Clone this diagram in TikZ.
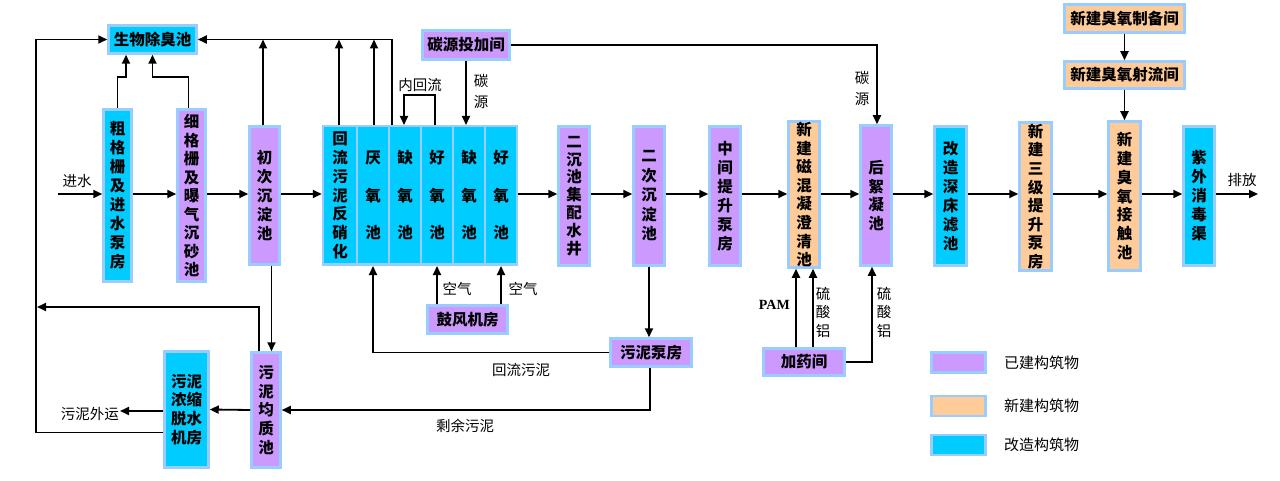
\documentclass[tikz,border=0pt]{standalone}
\usepackage{fontspec}
\setmainfont{Liberation Serif}
\newfontfamily\cjk{Noto Sans CJK SC}
\usetikzlibrary{arrows.meta}
\definecolor{bord}{HTML}{99CCFF}
\definecolor{cpur}{HTML}{CC99FF}
\definecolor{cora}{HTML}{FFCC99}
\definecolor{ccya}{HTML}{00CCFF}
\newcommand\boxfont{\cjk\bfseries}
\tikzset{
  box/.style={draw=bord, line width=2.5pt, inner sep=0pt, font=\boxfont\fontsize{15.5}{18}\selectfont},
  vbox/.style={box, align=center, font=\boxfont\fontsize{15.5}{#1}\selectfont},
  vbox/.default=19,
  fpur/.style={fill=cpur},
  fora/.style={fill=cora},
  fcya/.style={fill=ccya},
  arr/.style={line width=1.8pt, -{Triangle[length=9pt,width=8pt]}},
  lab/.style={font=\cjk\fontsize{14.5}{16}\selectfont, inner sep=0pt},
  vlab/.style={font=\cjk\fontsize{14.5}{#1}\selectfont, align=center, inner sep=0pt},
  vlab/.default=21,
  leg/.style={font=\cjk\fontsize{15}{16}\selectfont, inner sep=0pt, anchor=west}
}
\begin{document}
\begin{tikzpicture}[x=1pt,y=-1pt]
\useasboundingbox (0,0) rectangle (1280,481);
% ---------- boxes ----------
\node[box, fcya, minimum width=88, minimum height=28] (odor) at (152.5,39.5) {生物除臭池};
\node[vbox, fcya, minimum width=28, minimum height=172] (cu) at (117.5,195.5) {粗\\格\\栅\\及\\进\\水\\泵\\房};
\node[vbox=18.5, fpur, minimum width=28, minimum height=172] (xi) at (191.5,195.5) {细\\格\\栅\\及\\曝\\气\\沉\\砂\\池};
\node[vbox, fpur, minimum width=30, minimum height=138] (chu) at (264.5,195.5) {初\\次\\沉\\淀\\池};
% A/O block
\node[vbox=18.8, fcya, minimum width=34, minimum height=138.5] (hl) at (340,195.5) {回\\流\\污\\泥\\反\\硝\\化};
\node[vbox=37.5, fcya, minimum width=32, minimum height=138.5] (yy) at (373,195.5) {厌\\氧\\池};
\node[vbox=37.5, fcya, minimum width=32, minimum height=138.5] (qy1) at (405,195.5) {缺\\氧\\池};
\node[vbox=37.5, fcya, minimum width=32, minimum height=138.5] (hy1) at (437,195.5) {好\\氧\\池};
\node[vbox=37.5, fcya, minimum width=32, minimum height=138.5] (qy2) at (469,195.5) {缺\\氧\\池};
\node[vbox=37.5, fcya, minimum width=32, minimum height=138.5] (hy2) at (501,195.5) {好\\氧\\池};
\node[vbox=17.8, fpur, minimum width=31, minimum height=139] (ec) at (574,196) {二\\沉\\池\\集\\配\\水\\井};
\node[vbox=19.5, fpur, minimum width=31, minimum height=139] (ec2) at (649,196) {二\\次\\沉\\淀\\池};
\node[vbox, fpur, minimum width=31, minimum height=139] (zj) at (725,196) {中\\间\\提\\升\\泵\\房};
\node[vbox=18.6, fora, minimum width=31, minimum height=146] (cx) at (804,194.5) {新\\建\\磁\\混\\凝\\澄\\清\\池};
\node[vbox=18.7, fpur, minimum width=31, minimum height=140] (hx) at (876,195.5) {后\\絮\\凝\\池};
\node[vbox, fcya, minimum width=32, minimum height=139] (gz) at (950.5,196) {改\\造\\深\\床\\滤\\池};
\node[vbox=18.6, fora, minimum width=32, minimum height=148] (sj) at (1035.5,196.5) {新\\建\\三\\级\\提\\升\\泵\\房};
\node[vbox=18.7, fora, minimum width=32, minimum height=149] (jc) at (1124.5,196) {新\\建\\臭\\氧\\接\\触\\池};
\node[vbox, fcya, minimum width=31, minimum height=139] (zw) at (1199,196) {紫\\外\\消\\毒\\渠};
\node[box, fora, minimum width=120, minimum height=28] (zb) at (1124.5,18.5) {新建臭氧制备间};
\node[box, fora, minimum width=120, minimum height=27] (sl) at (1124.5,75) {新建臭氧射流间};
\node[box, fpur, minimum width=87, minimum height=29] (ty) at (466,45) {碳源投加间};
\node[box, fpur, minimum width=80, minimum height=28] (gf) at (467.5,319.5) {鼓风机房};
\node[box, fpur, minimum width=81, minimum height=28] (wb) at (651,352.5) {污泥泵房};
\node[box, fpur, minimum width=81, minimum height=27] (jy) at (804,362) {加药间};
\node[vbox=18.8, fpur, minimum width=29, minimum height=115] (jz) at (266,410) {污\\泥\\均\\质\\池};
\node[vbox=18.7, fcya, minimum width=44, minimum height=116] (ns) at (186.5,409.5) {污泥\\浓缩\\脱水\\机房};
% ---------- legend ----------
\node[box, fpur, minimum width=54, minimum height=20] (l1) at (958.5,362.5) {};
\node[box, fora, minimum width=54, minimum height=20] (l2) at (958.5,406) {};
\node[box, fcya, minimum width=54, minimum height=20] (l3) at (958.5,445) {};
\node[leg] (t1) at (1004,362.5) {已建构筑物};
\node[leg] (t2) at (1004,406) {新建构筑物};
\node[leg] (t3) at (1004,445) {改造构筑物};
% ---------- main flow ----------
\coordinate (main) at (0,194);
\coordinate (in) at (58,194);
\coordinate (out) at (1258,194);
\draw[arr] (in) -- (cu.west |- main);
\node[lab] (tin) at (77,181) {进水};
\draw[arr] (cu.east |- main) -- (xi.west |- main);
\draw[arr] (xi.east |- main) -- (chu.west |- main);
\draw[arr] (chu.east |- main) -- (hl.west |- main);
\draw[arr] (hy2.east |- main) -- (ec.west |- main);
\draw[arr] (ec.east |- main) -- (ec2.west |- main);
\draw[arr] (ec2.east |- main) -- (zj.west |- main);
\draw[arr] (zj.east |- main) -- (cx.west |- main);
\draw[arr] (cx.east |- main) -- (hx.west |- main);
\draw[arr] (hx.east |- main) -- (gz.west |- main);
\draw[arr] (gz.east |- main) -- (sj.west |- main);
\draw[arr] (sj.east |- main) -- (jc.west |- main);
\draw[arr] (jc.east |- main) -- (zw.west |- main);
\draw[arr] (zw.east |- main) -- (out);
\node[lab] (tout) at (1242,180) {排放};
% ---------- odour collection ----------
\draw[arr] (cu.north) -- ++(0,-31) -| ([xshift=-26.5]odor.south);
\draw[arr] ([xshift=-3]xi.north) -- ++(0,-31) -| (odor.south);
\draw[arr] ([xshift=-13]qy1.north) |- (odor.east);
\draw[arr] ([xshift=-1.5]chu.north) -- ([xshift=-1.5]chu.north |- odor.east);
\draw[arr] ([xshift=-1]hl.north) -- ([xshift=-1]hl.north |- odor.east);
\draw[arr] ([xshift=1]yy.north) -- ([xshift=1]yy.north |- odor.east);
\draw[arr] ([yshift=-23]ns.west) -- ++(-127.5,0) |- (odor.west);
\coordinate (j1) at (37,307);
\draw[arr] ([xshift=-7]jz.north) |- (j1);
% ---------- internal recycle & carbon ----------
\draw[arr] ([xshift=-2]hy1.north) -- ++(0,-30) -| ([xshift=-1]qy1.north);
\node[lab] (tnh) at (420,85) {内回流};
\draw[arr] (ty.south) -- (ty.south |- qy2.north);
\node[vlab] (tc1) at (481,91) {碳\\源};
\draw[arr] (ty.east) -| ([xshift=1]hx.north);
\node[vlab] (tc2) at (862,88) {碳\\源};
% ---------- air ----------
\draw[arr] (hy1.south |- gf.north) -- (hy1.south);
\draw[arr] (hy2.south |- gf.north) -- (hy2.south);
\node[lab] (ta1) at (457,289) {空气};
\node[lab] (ta2) at (523,289) {空气};
% ---------- sludge ----------
\draw[arr] (ec2.south) -- (ec2.south |- wb.north);
\draw[arr] (wb.west) -| (yy.south);
\node[lab] (thw) at (521,370) {回流污泥};
\draw[arr] ([xshift=-1]wb.south) |- (jz.east);
\node[lab] (tsy) at (465,426) {剩余污泥};
\draw[arr] ([xshift=7]chu.south) -- ([xshift=7]chu.south |- jz.north);
\draw[arr] (jz.west) -- (ns.east);
\coordinate (wy) at (120,411);
\draw[arr] (ns.west |- wy) -- (wy);
\node[lab, anchor=east] (twy) at (119,414) {污泥外运};
% ---------- ozone ----------
\draw[arr] (zb.south) -- (sl.north);
\draw[arr] (sl.south) -- (jc.north);
% ---------- chemicals ----------
\draw[arr] ([xshift=-8]jy.north) -- ([xshift=-8]cx.south);
\draw[arr] ([xshift=9]jy.north) -- ([xshift=9]cx.south);
\node[font=\bfseries\fontsize{14}{16}\selectfont, inner sep=0pt, anchor=east] (tpam) at (790,305) {PAM};
\node[vlab=18.5] (tl1) at (823,312) {硫\\酸\\铝};
\draw[arr] (jy.east) -| ([xshift=-4]hx.south);
\node[vlab=18.5] (tl2) at (884,312) {硫\\酸\\铝};
\end{tikzpicture}
\end{document}
